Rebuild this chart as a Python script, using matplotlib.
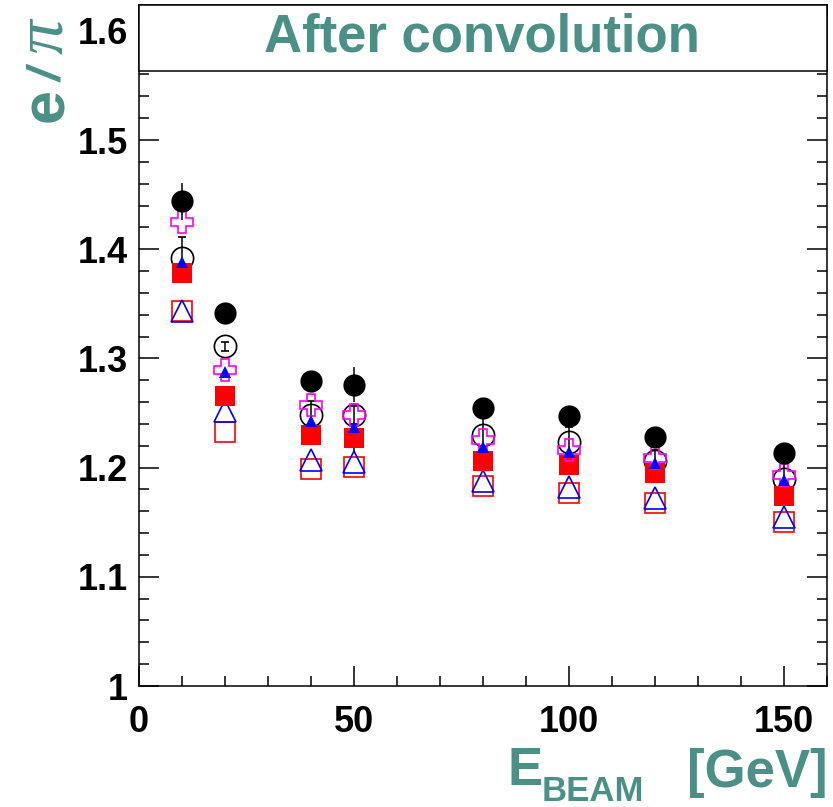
import matplotlib
matplotlib.use('Agg')
import matplotlib.pyplot as plt
from matplotlib.patches import Rectangle
from matplotlib.ticker import MultipleLocator, FuncFormatter

TEAL = '#4a9086'
SANS = 'Liberation Sans'

# beam energies [GeV]
energy = [10, 20, 40, 50, 80, 100, 120, 150]

# e/pi ratios, one list per marker set
filled_circle = [1.444, 1.342, 1.279, 1.276, 1.255, 1.247, 1.228, 1.213]
filled_circle_err = [0.017, 0.008, 0.008, 0.016, 0.008, 0.008, 0.008, 0.008]
open_circle = [1.392, 1.311, 1.248, 1.248, 1.230, 1.223, 1.206, 1.190]
open_circle_err = [0.019, 0.004, 0.013, 0.008, 0.016, 0.014, 0.010, 0.020]
open_cross = [1.425, 1.289, 1.257, 1.248, 1.225, 1.216, 1.209, 1.193]
filled_triangle = [1.388, 1.288, 1.243, 1.237, 1.219, 1.214, 1.204, 1.189]
filled_square = [1.378, 1.266, 1.230, 1.227, 1.206, 1.202, 1.195, 1.174]
filled_square_err = [0.006, 0.004, 0.006, 0.012, 0.006, 0.006, 0.008, 0.004]
open_triangle = [1.343, 1.252, 1.207, 1.205, 1.188, 1.182, 1.172, 1.155]
open_square = [1.343, 1.233, 1.199, 1.201, 1.183, 1.177, 1.168, 1.150]

W, H = 833, 807
fig = plt.figure(figsize=(W / 100, H / 100), dpi=100)
ax = fig.add_axes([139 / W, 1 - 686 / H, (827 - 139) / W, (686 - 5) / H])

ms = 17
ax.plot(energy, open_square, ls='none', marker='s', ms=ms - 2, mfc='none', mec='red', mew=1.2, zorder=3)
ax.plot(energy, open_triangle, ls='none', marker='^', ms=ms - 1, mfc='none', mec='blue', mew=1.2, zorder=3.1)
ax.errorbar(energy, open_circle, yerr=open_circle_err, fmt='o', ms=ms - 1, mfc='none', mec='black',
            mew=1.2, ecolor='black', elinewidth=1.1, capsize=3, capthick=1.1, zorder=3.2)
ax.errorbar(energy, filled_square, yerr=filled_square_err, fmt='s', ms=ms - 2, mfc='red', mec='red',
            mew=0, ecolor='black', elinewidth=1.1, capsize=3, capthick=1.1, zorder=3.3)
ax.plot(energy, open_cross, ls='none', marker='P', ms=ms - 1, mfc='none', mec='magenta', mew=1.2, zorder=3.4)
ax.plot(energy, filled_triangle, ls='none', marker='^', ms=8, mfc='blue', mec='blue', mew=0, zorder=3.5)
ax.errorbar(energy, filled_circle, yerr=filled_circle_err, fmt='o', ms=ms - 1, mfc='black', mec='black',
            mew=0, ecolor='black', elinewidth=1.1, capsize=3, capthick=1.1, zorder=3.6)

ax.set_xlim(0, 160)
ax.set_ylim(1, 1 + (686 - 5) / 1092)
ax.xaxis.set_major_locator(MultipleLocator(50))
ax.xaxis.set_minor_locator(MultipleLocator(10))
ax.yaxis.set_major_locator(MultipleLocator(0.1))
ax.yaxis.set_minor_locator(MultipleLocator(0.02))
ax.yaxis.set_major_formatter(FuncFormatter(lambda v, p: f'{v:g}'))
ax.tick_params(which='both', direction='in', top=True, right=True, width=1.1)
ax.tick_params(which='major', length=14.5)
ax.tick_params(which='minor', length=7)
ax.tick_params(axis='x', pad=14)
ax.tick_params(axis='y', pad=8)
for lab in ax.get_xticklabels() + ax.get_yticklabels():
    lab.set_fontfamily(SANS)
    lab.set_fontweight('bold')
    lab.set_fontsize(26)
for sp in ax.spines.values():
    sp.set_linewidth(1.1)

# title box on top of the frame
box_y = (686 - 71) / (686 - 5)
ax.add_patch(Rectangle((0, box_y), 1, 1 - box_y, transform=ax.transAxes, facecolor='white',
                       edgecolor='black', lw=1.1, zorder=5, clip_on=False))
ax.text((482 - 139) / (827 - 139), (686 - 38) / (686 - 5), 'After convolution',
        transform=ax.transAxes, ha='center', va='center', fontsize=38, fontweight='bold', family=SANS,
        color=TEAL, zorder=6)

# x axis title
fig.text(508 / W, 1 - 785 / H, 'E', fontsize=38, fontweight='bold', family=SANS, color=TEAL,
         ha='left', va='baseline')
fig.text(542 / W, 1 - 801 / H, 'BEAM', fontsize=25, fontweight='bold', family=SANS, color=TEAL,
         ha='left', va='baseline')
fig.text(828 / W, 1 - 787 / H, '[GeV]', fontsize=38, fontweight='bold', family=SANS, color=TEAL,
         ha='right', va='baseline')

# y axis title
fig.text(63 / W, 1 - 122 / H, 'e', fontsize=44, fontweight='bold', family=SANS, color=TEAL,
         rotation=90, rotation_mode='anchor', ha='left', va='baseline')
fig.text(62 / W, 1 - 82 / H, '/', fontsize=34, fontweight='bold', style='italic', family=SANS,
         color=TEAL, rotation=90, rotation_mode='anchor', ha='left', va='baseline')
fig.text(62 / W, 1 - 54 / H, 'π', fontsize=50, style='italic', family='Liberation Serif', color=TEAL,
         rotation=90, rotation_mode='anchor', ha='left', va='baseline')

fig.savefig('out.png', dpi=100)
